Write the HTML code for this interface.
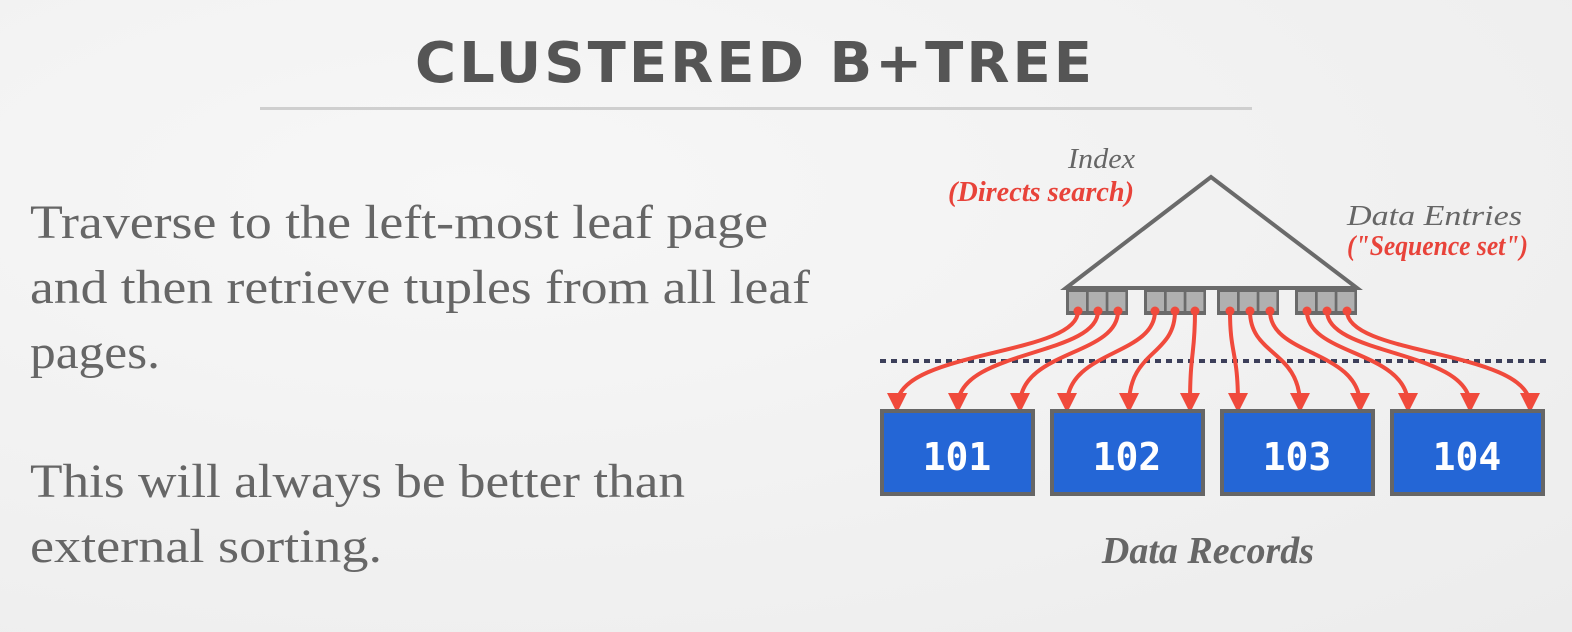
<!DOCTYPE html>
<html><head><meta charset="utf-8"><style>
html,body{margin:0;padding:0;background:#f2f2f2;}
svg{display:block;}
</style></head><body>
<svg width="1572" height="632" viewBox="0 0 1572 632">
<defs>
<radialGradient id="bg" cx="0.3" cy="0.3" r="1"><stop offset="0" stop-color="#f7f7f7"/><stop offset="1" stop-color="#ececec"/></radialGradient>
<marker id="ah" markerWidth="5" markerHeight="5" refX="3" refY="2.5" orient="auto" markerUnits="strokeWidth"><path d="M0,0 L5,2.5 L0,5 Z" fill="#f04a3c"/></marker>
</defs>
<rect width="1572" height="632" fill="url(#bg)"/>
<text x="415" y="82" font-family="DejaVu Sans, sans-serif" font-weight="bold" font-size="56" fill="#555" textLength="677" lengthAdjust="spacing">CLUSTERED B+TREE</text>
<rect x="260" y="107" width="992" height="3" fill="#cfcfcf"/>
<g font-family="Liberation Serif, serif" font-size="48" fill="#666">
<text x="30" y="238" textLength="738" lengthAdjust="spacingAndGlyphs">Traverse to the left-most leaf page</text>
<text x="30" y="303" textLength="780" lengthAdjust="spacingAndGlyphs">and then retrieve tuples from all leaf</text>
<text x="30" y="368" textLength="130" lengthAdjust="spacingAndGlyphs">pages.</text>
<text x="30" y="497" textLength="655" lengthAdjust="spacingAndGlyphs">This will always be better than</text>
<text x="30" y="562" textLength="352" lengthAdjust="spacingAndGlyphs">external sorting.</text>
</g>
<g font-family="Liberation Serif, serif" font-style="italic" font-size="28">
<text x="1068" y="168" fill="#666" textLength="67" lengthAdjust="spacingAndGlyphs">Index</text>
<text x="948" y="201" fill="#e8433a" font-weight="bold" textLength="186" lengthAdjust="spacingAndGlyphs">(Directs search)</text>
<text x="1347" y="225" fill="#666" textLength="175" lengthAdjust="spacingAndGlyphs">Data Entries</text>
<text x="1347" y="255" fill="#e8433a" font-weight="bold" textLength="181" lengthAdjust="spacingAndGlyphs">("Sequence set")</text>
</g>
<polygon points="1066,288 1211,177 1357,288" fill="none" stroke="#6a6a6a" stroke-width="4" stroke-linejoin="miter"/>
<line x1="880" y1="361" x2="1546" y2="361" stroke="#3c3f5a" stroke-width="4" stroke-dasharray="6,5"/>
<g id="leaves"></g>
<g id="arrows"></g>
<g id="records"></g>
<text x="1208" y="563" text-anchor="middle" font-family="Liberation Serif, serif" font-style="italic" font-weight="bold" font-size="38" fill="#666">Data Records</text>
</svg>
<script>
const recordLabels = ["101","102","103","104"];
const groupX = [1066,1144,1217,1295];
const startX = [1078,1098,1118,1155,1175,1195,1230,1250,1270,1307,1327,1347];
const endX = [897,958,1020,1067,1129,1190,1238,1300,1360,1408,1470,1530];
const boxX = [880,1050,1220,1390];
const NS="http://www.w3.org/2000/svg";
const leaves=document.getElementById('leaves');
groupX.forEach((gx,i)=>{
  const g=document.createElementNS(NS,'rect');
  g.setAttribute('x',gx);g.setAttribute('y',289);g.setAttribute('width',62);g.setAttribute('height',26);
  g.setAttribute('fill','#6a6a6a');
  
  
  leaves.appendChild(g);
  for(let k=0;k<3;k++){
    const c=document.createElementNS(NS,'rect');
    c.setAttribute('x',gx+3+k*19.7);c.setAttribute('y',292);c.setAttribute('width',17);c.setAttribute('height',19);
    c.setAttribute('fill','#b0b0b0');
    
    
    leaves.appendChild(c);
  }
});
const arrows=document.getElementById('arrows');
startX.forEach((sx,i)=>{
  const ex=endX[i];
  const p=document.createElementNS(NS,'path');
  const y0=311,y1=405;
  const mx=(sx+ex)/2, my=(y0+y1)/2;
  p.setAttribute('d',`M${sx},${y0} C${sx},${y0+35} ${mx},${my-12} ${mx},${my} M${mx},${my}`);
  p.setAttribute('d',`M${sx},${y0} C${sx},${y0+45} ${ex},${y1-55} ${ex},${y1}`);
  p.setAttribute('fill','none');p.setAttribute('stroke','#f04a3c');p.setAttribute('stroke-width','4');
  p.setAttribute('marker-end','url(#ah)');
  
  
  arrows.appendChild(p);
  const d=document.createElementNS(NS,'circle');
  d.setAttribute('cx',sx);d.setAttribute('cy',y0);d.setAttribute('r',4.5);d.setAttribute('fill','#f04a3c');
  
  
  arrows.appendChild(d);
});
const records=document.getElementById('records');
recordLabels.forEach((lab,i)=>{
  const r=document.createElementNS(NS,'rect');
  r.setAttribute('x',boxX[i]+2);r.setAttribute('y',411);r.setAttribute('width',151);r.setAttribute('height',83);
  r.setAttribute('fill','#2466d6');r.setAttribute('stroke','#666');r.setAttribute('stroke-width','4');
  
  
  records.appendChild(r);
  const t=document.createElementNS(NS,'text');
  t.setAttribute('x',boxX[i]+77);t.setAttribute('y',470);t.setAttribute('text-anchor','middle');
  t.setAttribute('font-family','DejaVu Sans Mono, monospace');t.setAttribute('font-weight','bold');t.setAttribute('font-size','38');t.setAttribute('fill','#fff');
  t.textContent=lab;
  
  
  records.appendChild(t);
});
</script>
</body></html>
